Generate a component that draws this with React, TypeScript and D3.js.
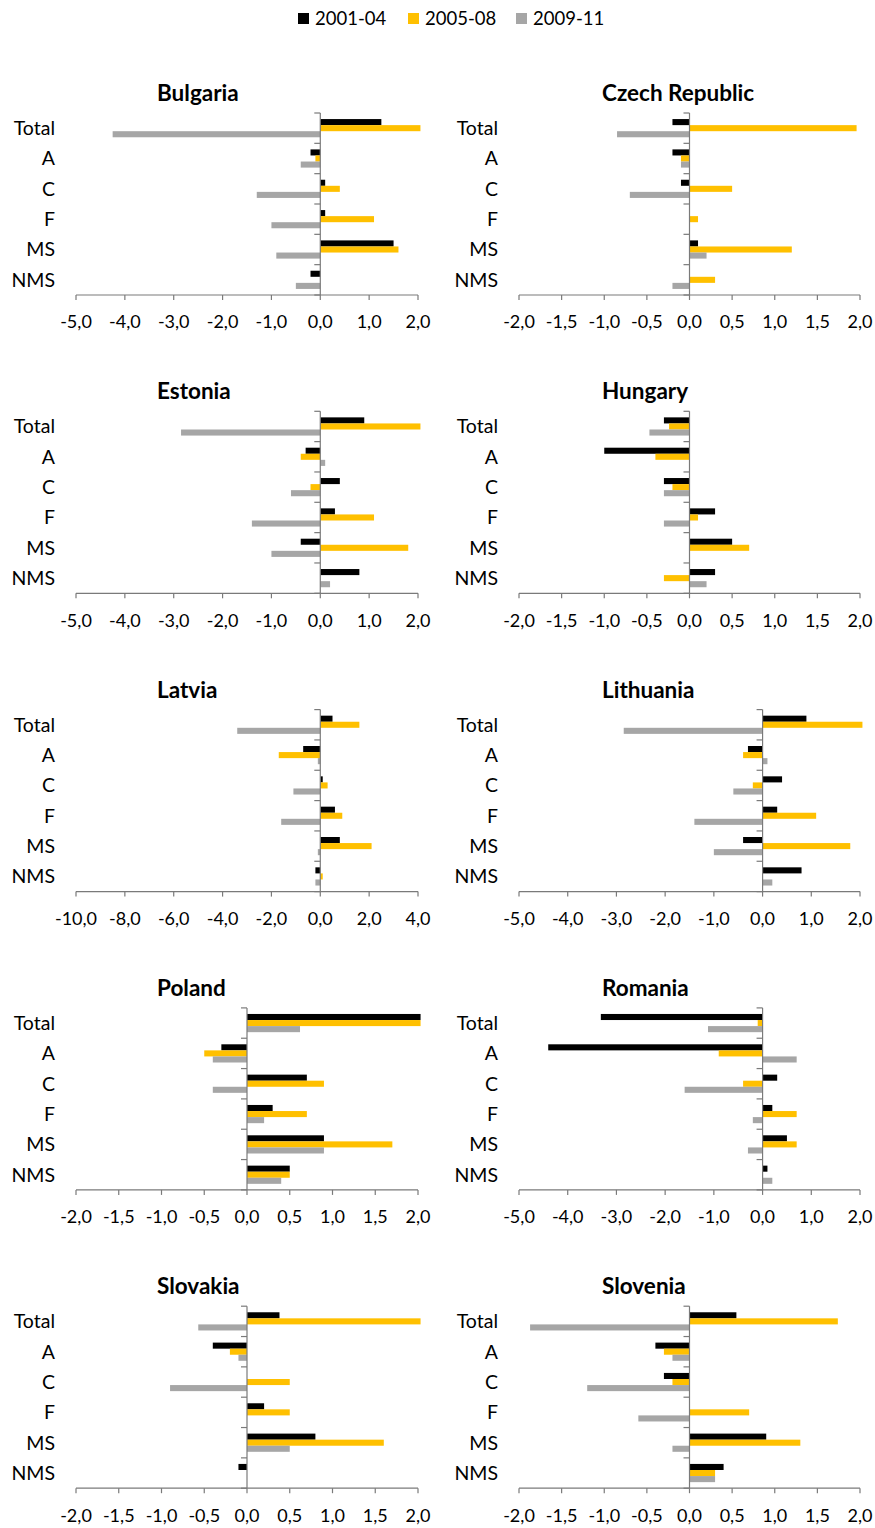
import * as d3 from 'd3';

// Categories and series
const categories = ['Total', 'A', 'C', 'F', 'MS', 'NMS'];
const seriesNames = ['2001-04', '2005-08', '2009-11'];
const seriesColors = ['#000000', '#FFC000', '#A6A6A6'];

const countries = ['Bulgaria', 'Czech Republic', 'Estonia', 'Hungary', 'Latvia',
                   'Lithuania', 'Poland', 'Romania', 'Slovakia', 'Slovenia'];

// values per country: one row per series, in category order
const bulgaria = [
  [1.25, -0.2, 0.1, 0.1, 1.5, -0.2],
  [2.05, -0.1, 0.4, 1.1, 1.6, 0],
  [-4.25, -0.4, -1.3, -1.0, -0.9, -0.5],
];
const czechRepublic = [
  [-0.2, -0.2, -0.1, 0, 0.1, 0],
  [1.96, -0.1, 0.5, 0.1, 1.2, 0.3],
  [-0.85, -0.1, -0.7, 0, 0.2, -0.2],
];
const estonia = [
  [0.9, -0.3, 0.4, 0.3, -0.4, 0.8],
  [2.05, -0.4, -0.2, 1.1, 1.8, 0],
  [-2.85, 0.1, -0.6, -1.4, -1.0, 0.2],
];
const hungary = [
  [-0.3, -1.0, -0.3, 0.3, 0.5, 0.3],
  [-0.24, -0.4, -0.2, 0.1, 0.7, -0.3],
  [-0.47, 0, -0.3, -0.3, 0, 0.2],
];
const latvia = [
  [0.5, -0.7, 0.1, 0.6, 0.8, -0.2],
  [1.6, -1.7, 0.3, 0.9, 2.1, 0.1],
  [-3.4, -0.1, -1.1, -1.6, -0.1, -0.2],
];
const lithuania = [
  [0.9, -0.3, 0.4, 0.3, -0.4, 0.8],
  [2.05, -0.4, -0.2, 1.1, 1.8, 0],
  [-2.85, 0.1, -0.6, -1.4, -1.0, 0.2],
];
const poland = [
  [2.03, -0.3, 0.7, 0.3, 0.9, 0.5],
  [2.03, -0.5, 0.9, 0.7, 1.7, 0.5],
  [0.62, -0.4, -0.4, 0.2, 0.9, 0.4],
];
const romania = [
  [-3.32, -4.4, 0.3, 0.2, 0.5, 0.1],
  [-0.1, -0.9, -0.4, 0.7, 0.7, 0],
  [-1.12, 0.7, -1.6, -0.2, -0.3, 0.2],
];
const slovakia = [
  [0.38, -0.4, 0, 0.2, 0.8, -0.1],
  [2.03, -0.2, 0.5, 0.5, 1.6, 0],
  [-0.57, -0.1, -0.9, 0, 0.5, 0],
];
const slovenia = [
  [0.55, -0.4, -0.3, 0, 0.9, 0.4],
  [1.74, -0.3, -0.2, 0.7, 1.3, 0.3],
  [-1.87, -0.2, -1.2, -0.6, -0.2, 0.3],
];

const countryValues = [bulgaria, czechRepublic, estonia, hungary, latvia,
                       lithuania, poland, romania, slovakia, slovenia];

// x axis domains and tick steps
const xDomains = [[-5, 2], [-2, 2], [-5, 2], [-2, 2], [-10, 4],
                  [-5, 2], [-2, 2], [-5, 2], [-2, 2], [-2, 2]];
const xSteps = [1, 0.5, 1, 0.5, 2, 1, 0.5, 1, 0.5, 0.5];

// layout
const width = 875;
const height = 1528;
const colRange = [[76, 418], [519, 860]];
const titleX = [157, 602];
const firstAxisY = 295;
const rowStep = 298.3;
const plotHeight = 182;
const axisColor = '#7a7a7a';
const font = 'Lato, "Open Sans", sans-serif';

const fmt = (v: number) => v.toFixed(1).replace('.', ',');

function Panel({ index }: { index: number }) {
  const col = index % 2;
  const row = Math.floor(index / 2);
  const axisY = firstAxisY + row * rowStep;
  const top = axisY - plotHeight;
  const [d0, d1] = xDomains[index];
  const step = xSteps[index];

  const x = d3.scaleLinear().domain([d0, d1]).range(colRange[col]);
  const y = d3.scaleBand().domain(categories).range([top, axisY]);
  const bw = y.bandwidth();
  const ys = d3.scaleBand().domain(seriesNames).range([bw * 0.2, bw * 0.8]);
  const ticks = d3.range(d0, d1 + step / 2, step);
  const values = countryValues[index];
  const x0 = x(0);

  return (
    <g>
      <text x={titleX[col]} y={top - 12} fontSize={22.5} fontWeight="bold"
        fontFamily={font} fill="#000">{countries[index]}</text>

      {values.map((serie, si) =>
        serie.map((v, ci) => v === 0 ? null : (
          <rect key={`${si}-${ci}`}
            x={Math.min(x0, x(v))}
            y={(y(categories[ci]) as number) + (ys(seriesNames[si]) as number)}
            width={Math.abs(x(v) - x0)}
            height={ys.bandwidth()}
            fill={seriesColors[si]} />
        ))
      )}

      {/* category axis at zero */}
      <line x1={x0} x2={x0} y1={top} y2={axisY} stroke={axisColor} strokeWidth={1.2} />
      {d3.range(categories.length + 1).map(i => (
        <line key={i} x1={x0 - 6} x2={x0} y1={top + i * bw} y2={top + i * bw}
          stroke={axisColor} strokeWidth={1.2} />
      ))}
      {categories.map(c => (
        <text key={c} x={colRange[col][0] - 21} y={(y(c) as number) + bw / 2} dy="0.35em"
          textAnchor="end" fontSize={19.5} fontFamily={font} fill="#000">{c}</text>
      ))}

      {/* value axis */}
      <line x1={colRange[col][0]} x2={colRange[col][1]} y1={axisY} y2={axisY}
        stroke={axisColor} strokeWidth={1.2} />
      {ticks.map(t => (
        <g key={t}>
          <line x1={x(t)} x2={x(t)} y1={axisY} y2={axisY + 5} stroke={axisColor} strokeWidth={1.2} />
          <text x={x(t)} y={axisY + 27} dy="0.35em" textAnchor="middle"
            fontSize={18} fontFamily={font} fill="#000">{fmt(t)}</text>
        </g>
      ))}
    </g>
  );
}

const legendX = [298, 408, 516];

function Legend() {
  return (
    <g>
      {seriesNames.map((s, i) => (
        <g key={s}>
          <rect x={legendX[i]} y={13} width={11} height={11} fill={seriesColors[i]} />
          <text x={legendX[i] + 17} y={18.5} dy="0.35em" fontSize={18.5}
            fontFamily={font} fill="#000">{s}</text>
        </g>
      ))}
    </g>
  );
}

export default function App() {
  return (
    <svg width={width} height={height}
      style={{ position: 'absolute', left: 0, top: 0, background: '#fff' }}>
      <Legend />
      {countries.map((c, i) => <Panel key={c} index={i} />)}
    </svg>
  );
}
